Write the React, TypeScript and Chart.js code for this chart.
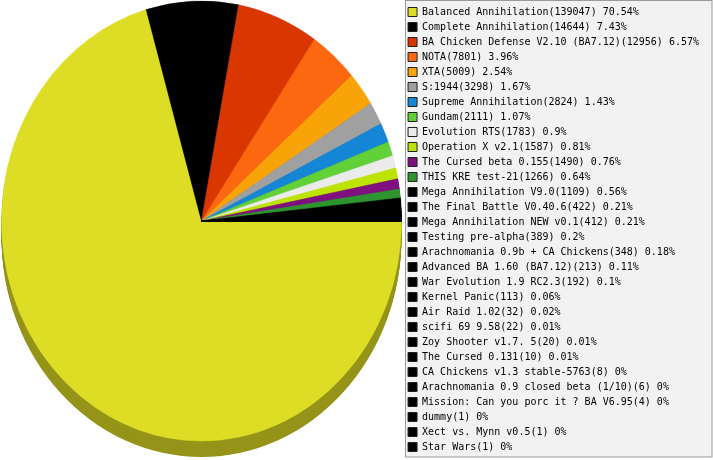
import { useEffect, useRef } from "react";
import { Chart, registerables } from "chart.js";

Chart.register(...registerables);

const mods = [
  "Balanced Annihilation",
  "Complete Annihilation",
  "BA Chicken Defense V2.10 (BA7.12)",
  "NOTA",
  "XTA",
  "S:1944",
  "Supreme Annihilation",
  "Gundam",
  "Evolution RTS",
  "Operation X v2.1",
  "The Cursed beta 0.155",
  "THIS KRE test-21",
  "Mega Annihilation V9.0",
  "The Final Battle V0.40.6",
  "Mega Annihilation NEW v0.1",
  "Testing pre-alpha",
  "Arachnomania 0.9b + CA Chickens",
  "Advanced BA 1.60 (BA7.12)",
  "War Evolution 1.9 RC2.3",
  "Kernel Panic",
  "Air Raid 1.02",
  "scifi 69 9.58",
  "Zoy Shooter v1.7. 5",
  "The Cursed 0.131",
  "CA Chickens v1.3 stable-5763",
  "Arachnomania 0.9 closed beta (1/10)",
  "Mission: Can you porc it ? BA V6.95",
  "dummy",
  "Xect vs. Mynn v0.5",
  "Star Wars",
];

const games = [
  139047, 14644, 12956, 7801, 5009, 3298, 2824, 2111, 1783, 1587, 1490, 1266,
  1109, 422, 412, 389, 348, 213, 192, 113, 32, 22, 20, 10, 8, 6, 4, 1, 1, 1,
];

const colors = [
  "#dedd26", "#000000", "#d93600", "#fc6810", "#f8a307", "#a0a0a0",
  "#1585d6", "#62d037", "#ebebeb", "#bde400", "#801080", "#2d9430",
  "#000000", "#000000", "#000000", "#000000", "#000000", "#000000",
  "#000000", "#000000", "#000000", "#000000", "#000000", "#000000",
  "#000000", "#000000", "#000000", "#000000", "#000000", "#000000",
];

const total = games.reduce((a, b) => a + b, 0);
const pct = (v: number) => Math.round((v / total) * 10000) / 100;

const SQUASH = 1.1; // pie is drawn as a slightly tall ellipse
const DEPTH = 16; // thickness of the 3d rim

function darken(hex: string, f: number) {
  const n = parseInt(hex.slice(1), 16);
  const r = Math.round(((n >> 16) & 255) * f);
  const g = Math.round(((n >> 8) & 255) * f);
  const b = Math.round((n & 255) * f);
  return `rgb(${r},${g},${b})`;
}

// gray box behind the legend
const legendBox = {
  id: "legendBox",
  beforeDraw(chart: any) {
    const lg = chart.legend;
    if (!lg) return;
    const ctx = chart.ctx;
    ctx.save();
    const x = Math.round(lg.left) + 2.5;
    const w = chart.width - 1 - x;
    const h = chart.height - 3.5;
    ctx.fillStyle = "#f2f2f2";
    ctx.fillRect(x, 0.5, w, h);
    ctx.strokeStyle = "#9a9a9a";
    ctx.lineWidth = 1;
    ctx.strokeRect(x, 0.5, w, h);
    ctx.restore();
  },
};

// ellipse + dark rim under the slices
const pie3d = {
  id: "pie3d",
  beforeDatasetsDraw(chart: any) {
    const ctx = chart.ctx;
    const arcs = chart.getDatasetMeta(0).data;
    if (!arcs.length) return;
    const { x: cx, y: cy } = arcs[0];
    for (let d = DEPTH; d >= 1; d--) {
      ctx.save();
      ctx.translate(cx, cy + d);
      ctx.scale(1, SQUASH);
      ctx.translate(-cx, -cy);
      for (let i = arcs.length - 1; i >= 0; i--) {
        const a = arcs[i];
        ctx.beginPath();
        ctx.moveTo(cx, cy);
        ctx.arc(cx, cy, a.outerRadius, a.startAngle, a.endAngle);
        ctx.closePath();
        ctx.fillStyle = darken(colors[i], 0.67);
        ctx.fill();
      }
      ctx.restore();
    }
    ctx.save();
    ctx.translate(cx, cy);
    ctx.scale(1, SQUASH);
    ctx.translate(-cx, -cy);
  },
  afterDatasetsDraw(chart: any) {
    chart.ctx.restore();
  },
};

export default function App() {
  const canvasRef = useRef<HTMLCanvasElement | null>(null);
  const chartRef = useRef<Chart | null>(null);

  useEffect(() => {
    if (!canvasRef.current) return;
    if (chartRef.current) chartRef.current.destroy();

    chartRef.current = new Chart(canvasRef.current, {
      type: "pie",
      data: {
        labels: mods,
        datasets: [
          {
            data: games,
            backgroundColor: colors,
            borderColor: colors,
            borderWidth: 0.5,
            radius: 200,
            clip: false,
          } as any,
        ],
      },
      options: {
        responsive: false,
        animation: false,
        rotation: 90,
        layout: { padding: { top: 2, right: 4 } },
        events: [],
        plugins: {
          tooltip: { enabled: false },
          // blank strip under the pie so it sits a little higher than the legend's middle
          title: {
            display: true,
            text: " ",
            position: "bottom",
            fullSize: false,
            font: { size: 10, lineHeight: 1.2 },
            padding: { top: 4, bottom: 4 },
          },
          legend: {
            position: "right",
            align: "start",
            labels: {
              boxWidth: 9,
              boxHeight: 9,
              padding: 5,
              color: "#000",
              font: { family: "'DejaVu Sans Mono', monospace", size: 10 },
              generateLabels: () =>
                mods.map((m, i) => ({
                  text: `${m}(${games[i]}) ${pct(games[i])}%`,
                  fillStyle: colors[i],
                  strokeStyle: "#222",
                  lineWidth: 1,
                  fontColor: "#000",
                  hidden: false,
                  index: i,
                })),
            },
          },
        },
      },
      plugins: [legendBox, pie3d],
    });

    return () => {
      if (chartRef.current) {
        chartRef.current.destroy();
        chartRef.current = null;
      }
    };
  }, []);

  return (
    <div style={{ position: "absolute", left: 0, top: 0, width: 713, height: 460, background: "#fff" }}>
      <canvas ref={canvasRef} width={713} height={460} />
    </div>
  );
}
